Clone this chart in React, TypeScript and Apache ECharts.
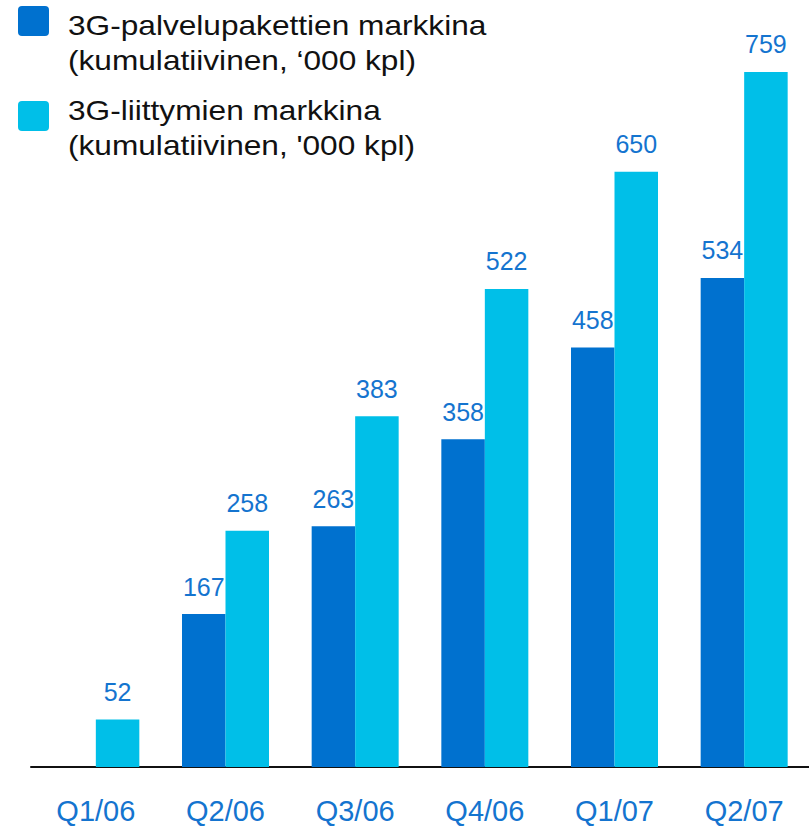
import React, { useEffect, useRef } from "react";
import * as echarts from "echarts";

const categories = ["Q1/06", "Q2/06", "Q3/06", "Q4/06", "Q1/07", "Q2/07"];
const palvelupaketit = [null, 167, 263, 358, 458, 534];
const liittymat = [52, 258, 383, 522, 650, 759];
const legendNames = [
  "3G-palvelupakettien markkina\n(kumulatiivinen, ‘000 kpl)",
  "3G-liittymien markkina\n(kumulatiivinen, '000 kpl)",
];

const DARK = "#0071cf";
const CYAN = "#00bfe8";
const LABEL = "#1474cf";
const FONT = "'Liberation Sans', Arial, sans-serif";

export default function App() {
  const ref = useRef<HTMLDivElement>(null);
  useEffect(() => {
    if (!ref.current) return;
    const chart = echarts.init(ref.current, undefined, { renderer: "svg" });
    const label = {
      show: true,
      position: "top",
      distance: 15,
      color: LABEL,
      fontSize: 25,
      fontFamily: FONT,
    };
    chart.setOption({
      animation: false,
      textStyle: { fontFamily: FONT },
      grid: { left: 31, top: 34.4, width: 782, height: 732.6, containLabel: false },
      xAxis: {
        type: "category",
        data: categories,
        axisTick: { show: false },
        axisLine: { lineStyle: { color: "#111", width: 2 } },
        axisLabel: { color: LABEL, fontSize: 29, fontFamily: FONT, margin: 29 },
      },
      yAxis: {
        type: "value",
        min: 0,
        max: 800,
        show: false,
        splitLine: { show: false },
      },
      series: [
        {
          type: "bar",
          name: "3G-palvelupakettien markkina",
          data: palvelupaketit,
          barWidth: 43.5,
          barGap: "0%",
          itemStyle: { color: DARK },
          label,
        },
        {
          type: "bar",
          name: "3G-liittymien markkina",
          data: liittymat,
          barWidth: 43.5,
          barGap: "0%",
          itemStyle: { color: CYAN },
          label,
        },
      ],
      graphic: [
        { type: "rect", left: 18, top: 6, shape: { width: 31, height: 30, r: 4 }, style: { fill: DARK } },
        { type: "rect", left: 18, top: 101, shape: { width: 31, height: 30, r: 4 }, style: { fill: CYAN } },
        {
          type: "text",
          x: 68,
          y: 7.5,
          scaleX: 1.13,
          style: {
            text: legendNames[0],
            fontSize: 28,
            lineHeight: 35,
            fontFamily: FONT,
            fill: "#111",
            verticalAlign: "top",
          },
        },
        {
          type: "text",
          x: 68,
          y: 92.5,
          scaleX: 1.13,
          style: {
            text: legendNames[1],
            fontSize: 28,
            lineHeight: 35,
            fontFamily: FONT,
            fill: "#111",
            verticalAlign: "top",
          },
        },
      ],
    });
    return () => chart.dispose();
  }, []);
  return (
    <div
      ref={ref}
      style={{ position: "absolute", left: 0, top: 0, width: 809, height: 826, background: "#fff" }}
    />
  );
}
